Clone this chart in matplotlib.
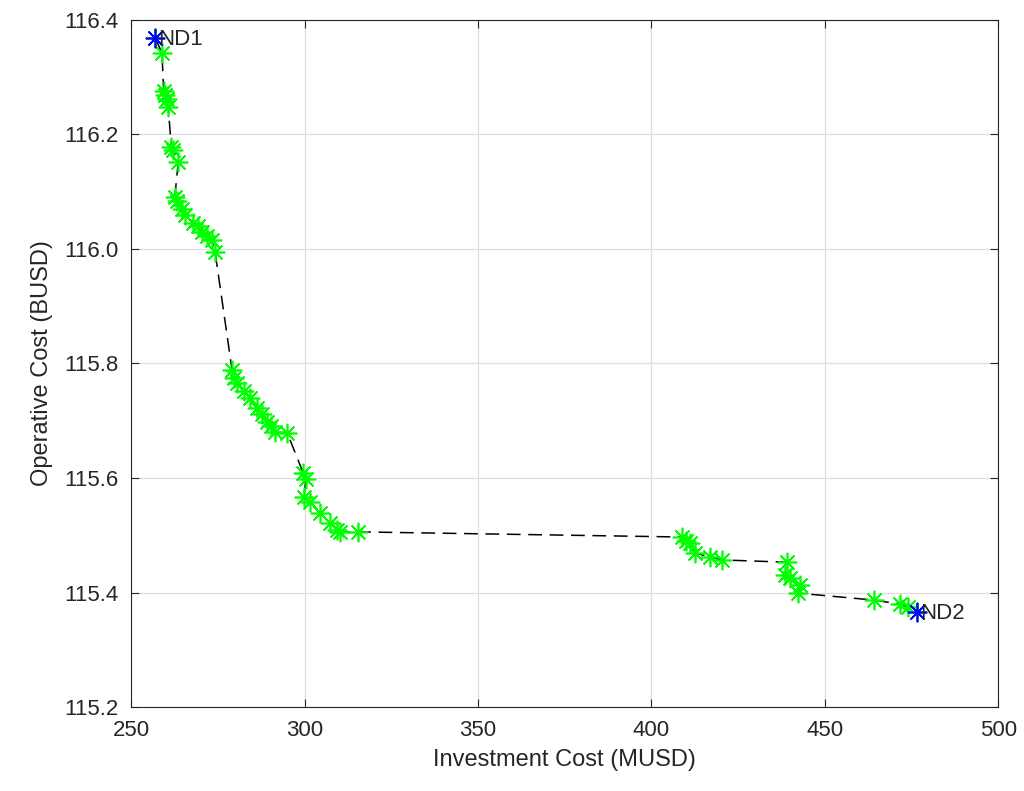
import matplotlib
matplotlib.use('Agg')
import matplotlib.pyplot as plt

# pareto front points (investment MUSD, operative BUSD)
inv_cost = [256.9, 258.9, 259.4, 259.8, 260.3, 260.7, 261.6, 262.1, 263.6,
            262.6, 263.2, 264.7, 265.6, 267.9, 269.2, 270.5, 272.0, 273.4, 274.2,
            279.1, 279.6, 280.6, 282.5, 284.3, 286.3, 287.6, 289.2, 290.4, 291.5, 295.0,
            299.6, 300.4, 299.8, 301.6, 304.5, 307.4, 309.4, 310.2, 315.5,
            408.9, 410.0, 411.2, 412.6, 416.9, 420.4,
            439.2, 438.6, 440.0, 442.9, 442.3,
            464.0, 471.7, 473.8, 476.6]
op_cost = [116.369, 116.342, 116.275, 116.268, 116.262, 116.248, 116.178, 116.172, 116.152,
           116.090, 116.083, 116.070, 116.060, 116.045, 116.040, 116.030, 116.022, 116.016, 115.995,
           115.789, 115.775, 115.766, 115.752, 115.740, 115.722, 115.712, 115.698, 115.690, 115.680, 115.679,
           115.609, 115.598, 115.567, 115.558, 115.539, 115.521, 115.509, 115.505, 115.506,
           115.497, 115.490, 115.486, 115.469, 115.462, 115.457,
           115.453, 115.431, 115.426, 115.413, 115.399,
           115.387, 115.380, 115.375, 115.366]

ends_x = [inv_cost[0], inv_cost[-1]]
ends_y = [op_cost[0], op_cost[-1]]
ends_lab = ['ND1', 'ND2']

plt.rcParams['font.family'] = ['Liberation Sans', 'DejaVu Sans']
fig = plt.figure(figsize=(10.24, 7.91), dpi=100)
ax = fig.add_axes([0.128, 0.106, 0.847, 0.869])

asterisk = (8, 2, 0)
ax.plot(inv_cost, op_cost, color='black', lw=1.1, dashes=(9, 5), zorder=2)
ax.plot(inv_cost, op_cost, marker=asterisk, color='#00ff00', ms=14, mew=1.2,
        linestyle='none', zorder=3)
ax.plot(ends_x, ends_y, marker=asterisk, color='blue', ms=14, mew=1.2,
        linestyle='none', zorder=4)
for xx, yy, lab in zip(ends_x, ends_y, ends_lab):
    ax.text(xx + 0.8, yy - 0.003, lab, fontsize=16, color='#262626',
            va='center', ha='left', zorder=5)

ax.set_xlim(250, 500)
ax.set_ylim(115.2, 116.4)
ax.set_xticks([250, 300, 350, 400, 450, 500])
ax.set_yticks([115.2, 115.4, 115.6, 115.8, 116.0, 116.2, 116.4])
ax.set_yticklabels(['115.2', '115.4', '115.6', '115.8', '116.0', '116.2', '116.4'])
ax.grid(True, color='#dedede', lw=0.9)
ax.set_axisbelow(True)
ax.tick_params(direction='in', top=True, right=True, labelsize=16,
               colors='#262626', length=6, pad=9)
for s in ax.spines.values():
    s.set_color('#262626')
ax.set_xlabel('Investment Cost (MUSD)', fontsize=17, color='#262626', labelpad=6)
ax.set_ylabel('Operative Cost (BUSD)', fontsize=17, color='#262626', labelpad=8)

fig.savefig('out.png', dpi=100)
